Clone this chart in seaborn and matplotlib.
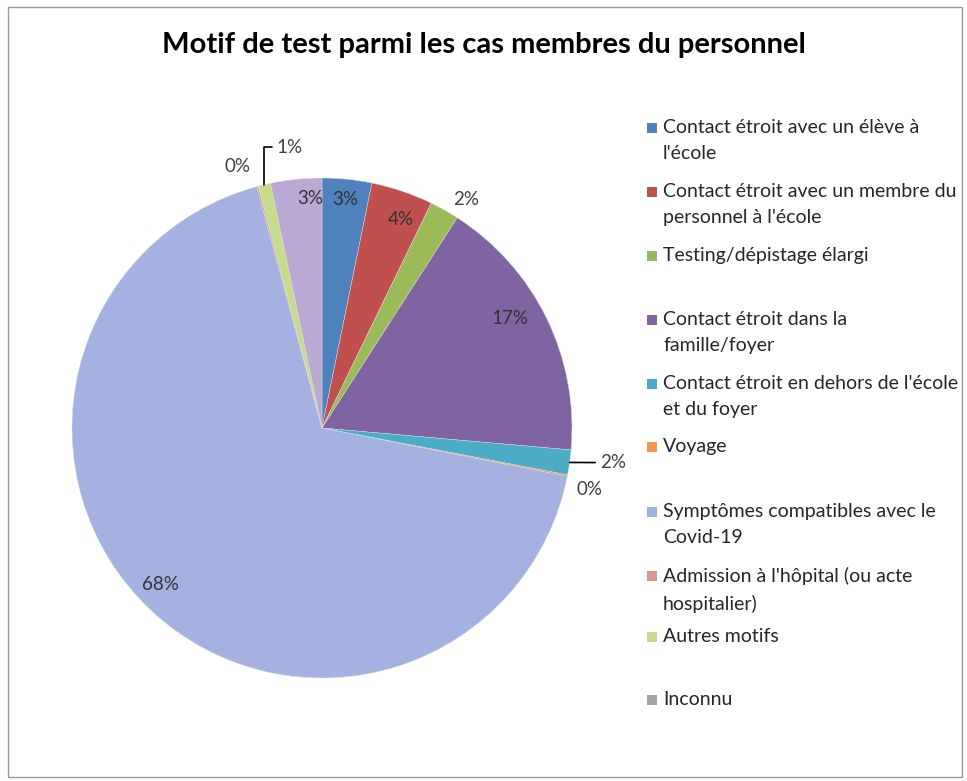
import numpy as np
import matplotlib
matplotlib.use("Agg")
import matplotlib.pyplot as plt
import seaborn as sns
from matplotlib.patches import Rectangle

# Motif de test parmi les cas membres du personnel - pie chart

categories = [
    "Contact étroit avec un élève à\nl'école",
    "Contact étroit avec un membre du\npersonnel à l'école",
    "Testing/dépistage élargi",
    "Contact étroit dans la\nfamille/foyer",
    "Contact étroit en dehors de l'école\net du foyer",
    "Voyage",
    "Symptômes compatibles avec le\nCovid-19",
    "Admission à l'hôpital (ou acte\nhospitalier)",
    "Autres motifs",
    "Inconnu",
]
shares = [3.2, 4.0, 1.9, 17.3, 1.6, 0.1, 67.7, 0.1, 0.8, 3.3]

slice_colors = ["#4F81BD", "#C0504D", "#9BBB59", "#8064A2", "#4BACC6",
                "#F79646", "#A5B1E0", "#D99694", "#C5DC8C", "#B9A9D3"]
legend_colors = ["#4F81BD", "#C0504D", "#9BBB59", "#8064A2", "#4BACC6",
                 "#F79646", "#A5B1E0", "#D99694", "#C5DC8C", "#A5A5A5"]

sns.set_theme(style="white")
plt.rcParams['font.family'] = ['Lato', 'DejaVu Sans']

fig = plt.figure(figsize=(9.67, 7.81), dpi=100)
W, H = 967, 781

# pie centre at (322, 428) px, radius 250 px
cx, cy, R = 322, 428, 250
half = 300
ax = fig.add_axes([(cx - half) / W, (H - cy - half) / H, 2 * half / W, 2 * half / H])
wedges, _ = ax.pie(shares, colors=sns.color_palette(slice_colors), startangle=90,
                   counterclock=False, radius=1.0,
                   wedgeprops=dict(linewidth=0.3, edgecolor="#dddddd"))
ax.set_xlim(-1.2, 1.2)
ax.set_ylim(-1.2, 1.2)
ax.set_aspect("auto")
ax.axis("off")

# label placement: (radius, angle nudge in degrees, mode)
label_layout = [
    (0.92, 0, "in"), (0.89, -2, "in"), (1.08, -3, "out"), (0.87, 4, "in"),
    (1.15, 1, "lead"), (1.1, -2, "out"), (0.9, -3, "in"), (1.1, 3, "out"),
    (None, 0, "hook"), (0.92, -3, "in"),
]
txt_color = "#404040"
for w, v, (r, nudge, mode) in zip(wedges, shares, label_layout):
    mid = np.deg2rad((w.theta1 + w.theta2) / 2 + nudge)
    lab = f"{v:.0f}%"
    if mode in ("in", "out"):
        ax.text(r * np.cos(mid), r * np.sin(mid), lab, ha="center", va="center",
                fontsize=13.5, color="#333333" if mode == "in" else txt_color)
    elif mode == "lead":
        m0 = np.deg2rad((w.theta1 + w.theta2) / 2)
        ax.annotate(lab, xy=(np.cos(m0), np.sin(m0)),
                    xytext=(r * np.cos(mid) - 0.03, r * np.sin(mid) - 0.0),
                    ha="left", va="center", fontsize=13.5, color=txt_color,
                    arrowprops=dict(arrowstyle="-", color="black", lw=1.2,
                                    shrinkA=1, shrinkB=0))
    else:
        m0 = np.deg2rad((w.theta1 + w.theta2) / 2)
        x0, y0 = np.cos(m0), np.sin(m0)
        ax.annotate(lab, xy=(x0, y0), xytext=(x0 + 0.05, y0 + 0.15),
                    ha="left", va="center", fontsize=13.5, color=txt_color,
                    arrowprops=dict(arrowstyle="-", color="black", lw=1.2,
                                    shrinkA=1, shrinkB=0,
                                    connectionstyle="angle,angleA=0,angleB=90,rad=0"))

# title
fig.text(484 / W, 1 - 45 / H, "Motif de test parmi les cas membres du personnel",
         ha="center", va="center", fontsize=21, fontweight="bold", color="black")

# legend
legend_y = [128, 192, 256, 320, 384, 447, 512, 576, 637, 700]
for name, col, yc in zip(categories, legend_colors, legend_y):
    fig.patches.append(Rectangle((647 / W, 1 - (yc + 5) / H), 10 / W, 10 / H,
                                 transform=fig.transFigure, facecolor=col,
                                 edgecolor="none"))
    fig.text(663 / W, 1 - (yc - 9) / H, name, ha="left", va="top",
             fontsize=14, color="#262626", linespacing=1.65)

# chart border
fig.patches.append(Rectangle((8 / W, 4 / H), 954 / W, 770 / H,
                             transform=fig.transFigure, fill=False,
                             edgecolor="#9a9a9a", lw=1))

fig.savefig("out.png", dpi=100, facecolor="white")
